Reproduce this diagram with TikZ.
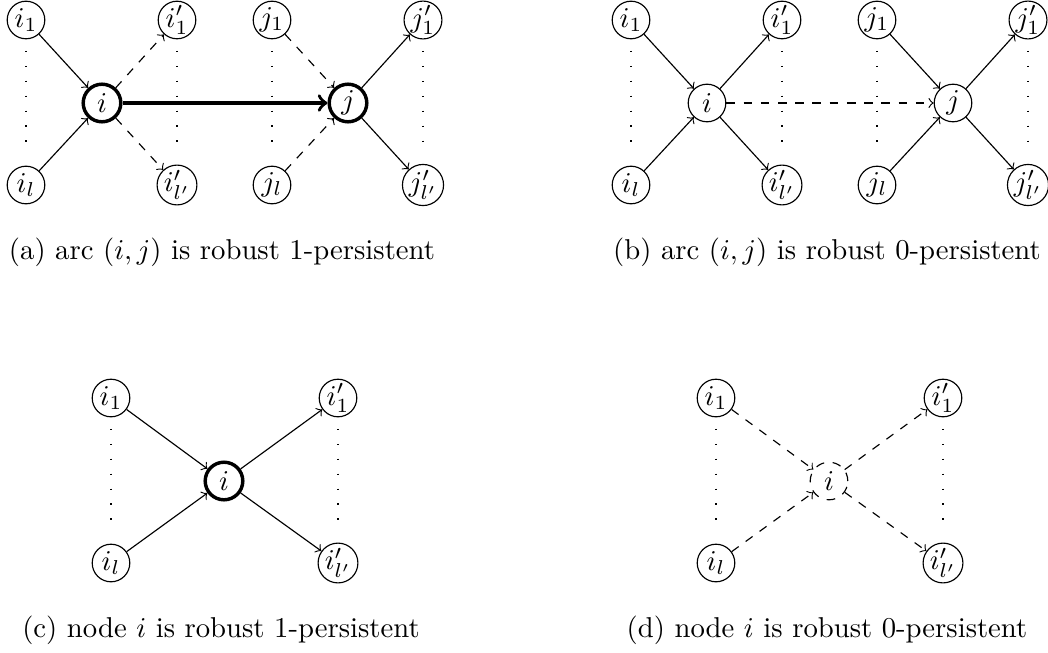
\documentclass[tikz,border=0pt]{standalone}
\begin{document}
\begin{tikzpicture}[x=0.3484pt,y=-0.3484pt,
  vtx/.style={draw,circle,minimum size=13.1pt,inner sep=0pt,thin},
  bold/.style={very thick},
  arr/.style={->,thin},
  darr/.style={->,thin,dashed},
  barr/.style={->,very thick},
  vdots/.style={thin,dash pattern=on 0.4pt off 4.8pt,shorten <=4pt,shorten >=4pt},
  captext/.style={anchor=base}]
\useasboundingbox (0,0) rectangle (1048,652);
% ---------- (a)
\node[vtx] (ai1) at (26,20) {$i_1$};
\node[vtx] (ail) at (26,185) {$i_l$};
\node[vtx,bold] (ai) at (102,103) {$i$};
\node[vtx] (aip1) at (177,20) {$i'_1$};
\node[vtx] (aipl) at (177,185) {$i'_{l'}$};
\node[vtx] (aj1) at (272,20) {$j_1$};
\node[vtx] (ajl) at (272,185) {$j_l$};
\node[vtx,bold] (aj) at (348,103) {$j$};
\node[vtx] (ajp1) at (423,20) {$j'_1$};
\node[vtx] (ajpl) at (423,185) {$j'_{l'}$};
\draw[vdots] (ai1) -- (ail);
\draw[vdots] (aip1) -- (aipl);
\draw[vdots] (aj1) -- (ajl);
\draw[vdots] (ajp1) -- (ajpl);
\draw[arr] (ai1) -- (ai);
\draw[arr] (ail) -- (ai);
\draw[darr] (ai) -- (aip1);
\draw[darr] (ai) -- (aipl);
\draw[darr] (aj1) -- (aj);
\draw[darr] (ajl) -- (aj);
\draw[arr] (aj) -- (ajp1);
\draw[arr] (aj) -- (ajpl);
\draw[barr] (ai) -- (aj);
\node[captext] (capa) at (222,259) {(a) arc $(i,j)$ is robust 1-persistent};
% ---------- (b)
\node[vtx] (bi1) at (631,20) {$i_1$};
\node[vtx] (bil) at (631,185) {$i_l$};
\node[vtx] (bi) at (707,103) {$i$};
\node[vtx] (bip1) at (782,20) {$i'_1$};
\node[vtx] (bipl) at (782,185) {$i'_{l'}$};
\node[vtx] (bj1) at (877,20) {$j_1$};
\node[vtx] (bjl) at (877,185) {$j_l$};
\node[vtx] (bj) at (953,103) {$j$};
\node[vtx] (bjp1) at (1028,20) {$j'_1$};
\node[vtx] (bjpl) at (1028,185) {$j'_{l'}$};
\draw[vdots] (bi1) -- (bil);
\draw[vdots] (bip1) -- (bipl);
\draw[vdots] (bj1) -- (bjl);
\draw[vdots] (bjp1) -- (bjpl);
\draw[arr] (bi1) -- (bi);
\draw[arr] (bil) -- (bi);
\draw[arr] (bi) -- (bip1);
\draw[arr] (bi) -- (bipl);
\draw[arr] (bj1) -- (bj);
\draw[arr] (bjl) -- (bj);
\draw[arr] (bj) -- (bjp1);
\draw[arr] (bj) -- (bjpl);
\draw[darr] (bi) -- (bj);
\node[captext] (capb) at (827,259) {(b) arc $(i,j)$ is robust 0-persistent};
% ---------- (c)
\node[vtx] (ci1) at (111,398) {$i_1$};
\node[vtx] (cil) at (111,563) {$i_l$};
\node[vtx,bold] (ci) at (224,481) {$i$};
\node[vtx] (cip1) at (338,398) {$i'_1$};
\node[vtx] (cipl) at (338,563) {$i'_{l'}$};
\draw[vdots] (ci1) -- (cil);
\draw[vdots] (cip1) -- (cipl);
\draw[arr] (ci1) -- (ci);
\draw[arr] (cil) -- (ci);
\draw[arr] (ci) -- (cip1);
\draw[arr] (ci) -- (cipl);
\node[captext] (capc) at (221,637) {(c) node $i$ is robust 1-persistent};
% ---------- (d)
\node[vtx] (di1) at (716,398) {$i_1$};
\node[vtx] (dil) at (716,563) {$i_l$};
\node[vtx,dashed] (di) at (829,481) {$i$};
\node[vtx] (dip1) at (943,398) {$i'_1$};
\node[vtx] (dipl) at (943,563) {$i'_{l'}$};
\draw[vdots] (di1) -- (dil);
\draw[vdots] (dip1) -- (dipl);
\draw[darr] (di1) -- (di);
\draw[darr] (dil) -- (di);
\draw[darr] (di) -- (dip1);
\draw[darr] (di) -- (dipl);
\node[captext] (capd) at (827,637) {(d) node $i$ is robust 0-persistent};
\end{tikzpicture}
\end{document}
